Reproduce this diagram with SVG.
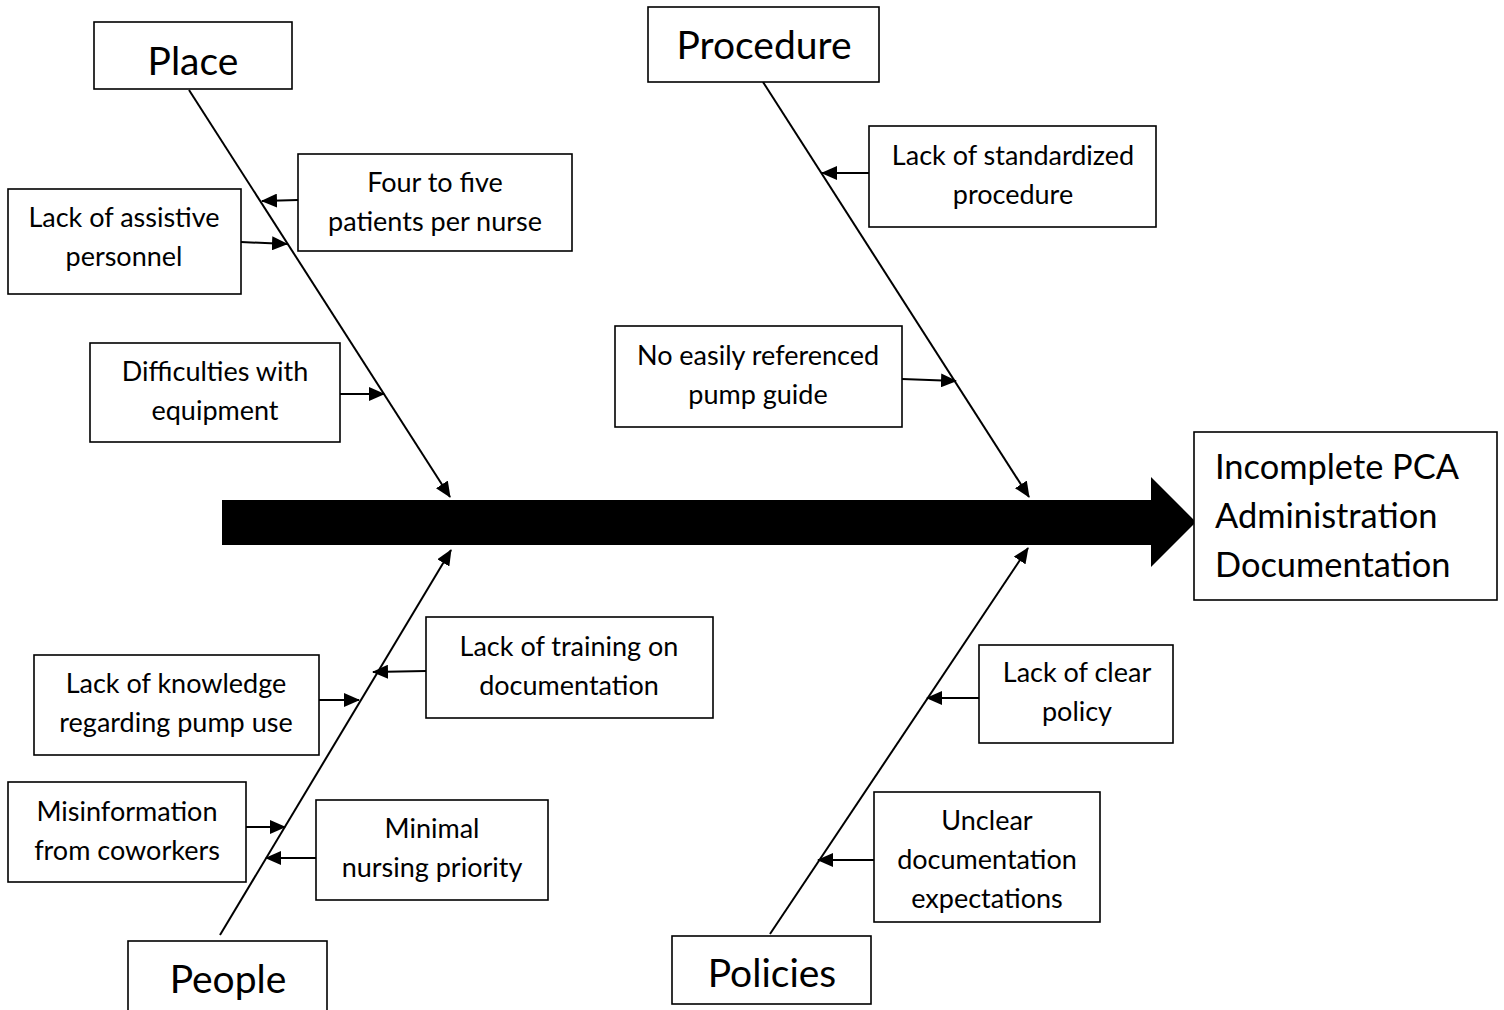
<svg xmlns="http://www.w3.org/2000/svg" width="1504" height="1010" viewBox="0 0 1504 1010">
<style>
.box{fill:#fff;stroke:#000;stroke-width:1.6}
.t{font-family:Lato,"Liberation Sans",sans-serif;font-size:27px;fill:#000;text-anchor:middle}
.h{font-family:Lato,"Liberation Sans",sans-serif;font-size:39px;fill:#000;text-anchor:middle}
.e{font-family:Lato,"Liberation Sans",sans-serif;font-size:34.4px;fill:#000}
.ln{stroke:#000;stroke-width:2;fill:none}
</style>
<defs>
<marker id="ah" markerUnits="userSpaceOnUse" markerWidth="16" markerHeight="14" refX="15" refY="7" orient="auto">
<path d="M0,0 L16,7 L0,14 Z" fill="#000"/>
</marker>
</defs>
<rect width="1504" height="1010" fill="#fff"/>
<g id="connectors">
<polygon points="222,500 1151,500 1151,477 1196,522 1151,567 1151,545 222,545" fill="#000"/>
<line class="ln" x1="189" y1="90" x2="450" y2="497" marker-end="url(#ah)"/>
<line class="ln" x1="763" y1="82" x2="1029" y2="497" marker-end="url(#ah)"/>
<line class="ln" x1="220" y1="935" x2="451" y2="550" marker-end="url(#ah)"/>
<line class="ln" x1="770" y1="934" x2="1028" y2="548" marker-end="url(#ah)"/>
<line class="ln" x1="298" y1="200" x2="262" y2="201" marker-end="url(#ah)"/>
<line class="ln" x1="241" y1="242" x2="287" y2="244" marker-end="url(#ah)"/>
<line class="ln" x1="340" y1="394" x2="384" y2="394" marker-end="url(#ah)"/>
<line class="ln" x1="869" y1="173" x2="822" y2="173" marker-end="url(#ah)"/>
<line class="ln" x1="902" y1="379" x2="956" y2="381" marker-end="url(#ah)"/>
<line class="ln" x1="426" y1="671" x2="373" y2="672" marker-end="url(#ah)"/>
<line class="ln" x1="319" y1="700" x2="359" y2="700" marker-end="url(#ah)"/>
<line class="ln" x1="246" y1="827" x2="285" y2="827" marker-end="url(#ah)"/>
<line class="ln" x1="316" y1="858" x2="266" y2="858" marker-end="url(#ah)"/>
<line class="ln" x1="979" y1="698" x2="927" y2="698" marker-end="url(#ah)"/>
<line class="ln" x1="874" y1="860" x2="818" y2="860" marker-end="url(#ah)"/>
</g>
<g id="place"><rect class="box" x="94" y="22" width="198" height="67"/><text class="h" x="193" y="75">Place</text></g>
<g id="procedure"><rect class="box" x="648" y="7" width="231" height="75"/><text class="h" x="764" y="59">Procedure</text></g>
<g id="people"><rect class="box" x="128" y="941" width="199" height="75"/><text class="h" x="228" y="993">People</text></g>
<g id="policies"><rect class="box" x="672" y="936" width="199" height="68"/><text class="h" x="772" y="987">Policies</text></g>
<g id="effect"><rect class="box" x="1194" y="432" width="303" height="168"/>
<text class="e" x="1215" y="479">Incomplete PCA</text>
<text class="e" x="1215" y="528">Administration</text>
<text class="e" x="1215" y="577">Documentation</text></g>
<g id="c1"><rect class="box" x="298" y="154" width="274" height="97"/><text class="t" x="435" y="192">Four to five</text><text class="t" x="435" y="231">patients per nurse</text></g>
<g id="c2"><rect class="box" x="8" y="189" width="233" height="105"/><text class="t" x="124" y="227">Lack of assistive</text><text class="t" x="124" y="266">personnel</text></g>
<g id="c3"><rect class="box" x="90" y="343" width="250" height="99"/><text class="t" x="215" y="381">Difficulties with</text><text class="t" x="215" y="420">equipment</text></g>
<g id="c4"><rect class="box" x="869" y="126" width="287" height="101"/><text class="t" x="1013" y="165">Lack of standardized</text><text class="t" x="1013" y="204">procedure</text></g>
<g id="c5"><rect class="box" x="615" y="326" width="287" height="101"/><text class="t" x="758" y="365">No easily referenced</text><text class="t" x="758" y="404">pump guide</text></g>
<g id="c6"><rect class="box" x="426" y="617" width="287" height="101"/><text class="t" x="569" y="656">Lack of training on</text><text class="t" x="569" y="695">documentation</text></g>
<g id="c7"><rect class="box" x="34" y="655" width="285" height="100"/><text class="t" x="176" y="693">Lack of knowledge</text><text class="t" x="176" y="732">regarding pump use</text></g>
<g id="c8"><rect class="box" x="8" y="782" width="238" height="100"/><text class="t" x="127" y="821">Misinformation</text><text class="t" x="127" y="860">from coworkers</text></g>
<g id="c9"><rect class="box" x="316" y="800" width="232" height="100"/><text class="t" x="432" y="838">Minimal</text><text class="t" x="432" y="877">nursing priority</text></g>
<g id="c10"><rect class="box" x="979" y="645" width="194" height="98"/><text class="t" x="1077" y="682">Lack of clear</text><text class="t" x="1077" y="721">policy</text></g>
<g id="c11"><rect class="box" x="874" y="792" width="226" height="130"/><text class="t" x="987" y="830">Unclear</text><text class="t" x="987" y="869">documentation</text><text class="t" x="987" y="908">expectations</text></g>
</svg>
